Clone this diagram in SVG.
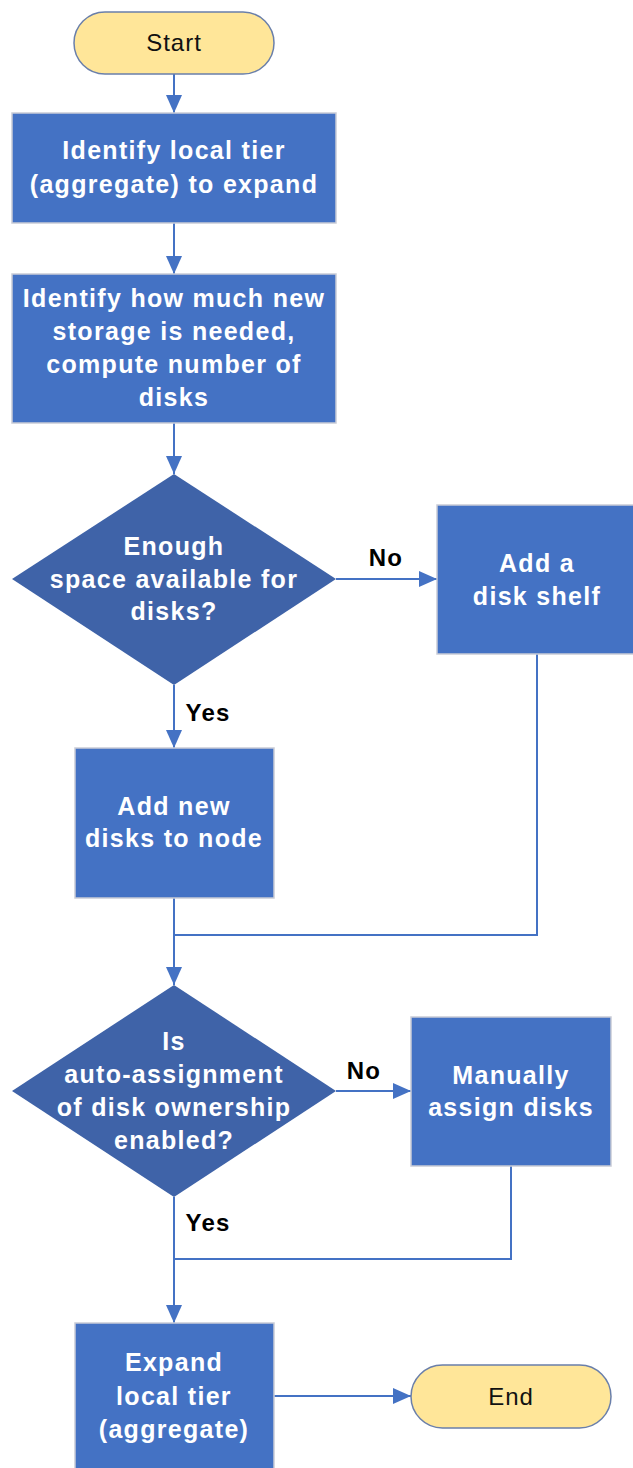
<svg xmlns="http://www.w3.org/2000/svg" width="633" height="1468" viewBox="0 0 633 1468">
  <defs>
    <marker id="arrow" viewBox="0 0 18 16" refX="18" refY="8" markerWidth="18" markerHeight="16" markerUnits="userSpaceOnUse" orient="auto">
      <path d="M0,0 L18,8 L0,16 Z" fill="#4472C4"/>
    </marker>
    <style>
      .box { fill: #4472C4; stroke: #C9CCD6; stroke-width: 1.5; }
      .dia { fill: #3F63A8; stroke: none; }
      .term { fill: #FFE699; stroke: #6A7FAA; stroke-width: 1.5; }
      .t { font-family: "Liberation Sans", Arial, sans-serif; font-size: 25px; font-weight: bold; fill: #FFFFFF; text-anchor: middle; letter-spacing: 1.3px; }
      .tt { font-family: "Liberation Sans", Arial, sans-serif; font-size: 24px; fill: #111111; text-anchor: middle; letter-spacing: 1px; }
      .lbl { font-family: "Liberation Sans", Arial, sans-serif; font-size: 24px; font-weight: bold; fill: #000000; text-anchor: middle; letter-spacing: 1.2px; }
      .c { fill: none; stroke: #4472C4; stroke-width: 2; }
      .ca { fill: none; stroke: #4472C4; stroke-width: 2; marker-end: url(#arrow); }
    </style>
  </defs>
  <rect width="633" height="1468" fill="#FFFFFF"/>

  <g id="connectors">
    <line class="ca" x1="174" y1="74" x2="174" y2="113"/>
    <line class="ca" x1="174" y1="223" x2="174" y2="274"/>
    <line class="ca" x1="174" y1="423" x2="174" y2="474"/>
    <line class="ca" x1="336" y1="579" x2="437" y2="579"/>
    <line class="ca" x1="174" y1="685" x2="174" y2="748"/>
    <polyline class="c" points="537,654 537,935 174,935"/>
    <line class="ca" x1="174" y1="898" x2="174" y2="985"/>
    <line class="ca" x1="336" y1="1091" x2="411" y2="1091"/>
    <polyline class="c" points="511,1166 511,1259 174,1259"/>
    <line class="ca" x1="174" y1="1197" x2="174" y2="1323"/>
    <line class="ca" x1="274" y1="1396" x2="411" y2="1396"/>
    <text class="lbl" x="386" y="566">No</text>
    <text class="lbl" x="208" y="721">Yes</text>
    <text class="lbl" x="364" y="1079">No</text>
    <text class="lbl" x="208" y="1231">Yes</text>
  </g>

  <g id="start">
    <rect class="term" x="74" y="12" width="200" height="62" rx="31" ry="31"/>
    <text class="tt" x="174" y="51">Start</text>
  </g>

  <g id="identify-tier">
    <rect class="box" x="12" y="113" width="324" height="110"/>
    <text class="t" x="174" y="159">Identify local tier</text>
    <text class="t" x="174" y="193">(aggregate) to expand</text>
  </g>

  <g id="identify-storage">
    <rect class="box" x="12" y="274" width="324" height="149"/>
    <text class="t" x="174" y="307">Identify how much new</text>
    <text class="t" x="174" y="340">storage is needed,</text>
    <text class="t" x="174" y="373">compute number of</text>
    <text class="t" x="174" y="406">disks</text>
  </g>

  <g id="enough-space">
    <polygon class="dia" points="174,474 336,579 174,685 12,579"/>
    <text class="t" x="174" y="555">Enough</text>
    <text class="t" x="174" y="588">space available for</text>
    <text class="t" x="174" y="620">disks?</text>
  </g>

  <g id="add-shelf">
    <rect class="box" x="437" y="505" width="200" height="149"/>
    <text class="t" x="537" y="572">Add a</text>
    <text class="t" x="537" y="605">disk shelf</text>
  </g>

  <g id="add-disks">
    <rect class="box" x="75" y="748" width="199" height="150"/>
    <text class="t" x="174" y="815">Add new</text>
    <text class="t" x="174" y="847">disks to node</text>
  </g>

  <g id="auto-assign">
    <polygon class="dia" points="174,985 336,1091 174,1197 12,1091"/>
    <text class="t" x="174" y="1050">Is</text>
    <text class="t" x="174" y="1083">auto-assignment</text>
    <text class="t" x="174" y="1116">of disk ownership</text>
    <text class="t" x="174" y="1149">enabled?</text>
  </g>

  <g id="manual-assign">
    <rect class="box" x="411" y="1017" width="200" height="149"/>
    <text class="t" x="511" y="1084">Manually</text>
    <text class="t" x="511" y="1116">assign disks</text>
  </g>

  <g id="expand">
    <rect class="box" x="75" y="1323" width="199" height="150"/>
    <text class="t" x="174" y="1371">Expand</text>
    <text class="t" x="174" y="1405">local tier</text>
    <text class="t" x="174" y="1438">(aggregate)</text>
  </g>

  <g id="end">
    <rect class="term" x="411" y="1365" width="200" height="63" rx="31.5" ry="31.5"/>
    <text class="tt" x="511" y="1405">End</text>
  </g>
</svg>
